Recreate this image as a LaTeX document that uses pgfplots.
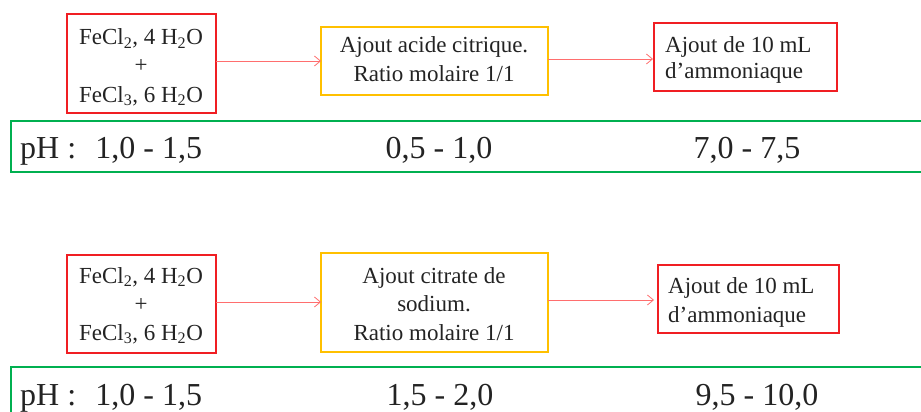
\documentclass[border=0pt]{standalone}
\usepackage{pgfplots}
\pgfplotsset{compat=1.18}
\usetikzlibrary{arrows.meta}
\usepackage{fontspec}
\setmainfont{Liberation Serif}
\definecolor{boxred}{RGB}{240,30,35}
\definecolor{boxorange}{RGB}{255,192,0}
\definecolor{boxgreen}{RGB}{0,176,80}
\definecolor{arrred}{RGB}{255,110,110}
\definecolor{txt}{RGB}{35,35,35}
\newcommand{\sm}{\fontsize{23bp}{27bp}\selectfont}
\newcommand{\bg}{\fontsize{32bp}{36bp}\selectfont}
\begin{document}
\begin{tikzpicture}
\begin{axis}[
  scale only axis, width=921bp, height=412bp,
  xmin=0, xmax=921, ymin=0, ymax=412, y dir=reverse,
  axis lines=none, clip=true,
]
% ---------- top diagram ----------
\addplot[draw=boxred, line width=1.5pt, mark=none] coordinates {(67,14) (216,14) (216,113) (67,113)} -- cycle;
\addplot[draw=boxorange, line width=1.5pt, mark=none] coordinates {(321,27) (548,27) (548,95) (321,95)} -- cycle;
\addplot[draw=boxred, line width=1.5pt, mark=none] coordinates {(654,23) (837,23) (837,91) (654,91)} -- cycle;
\addplot[draw=arrred, line width=0.8pt, mark=none, -{Straight Barb[length=6bp,width=10bp]}] coordinates {(216,61) (321,61)};
\addplot[draw=arrred, line width=0.8pt, mark=none, -{Straight Barb[length=6bp,width=10bp]}] coordinates {(548,59) (653,59)};
\addplot[draw=boxgreen, line width=1.5pt, mark=none] coordinates {(921,121) (11,121) (11,172) (921,172)};

\node[anchor=base, text=txt, font=\sm] at (axis cs:141,45) {FeCl\textsubscript{2}, 4 H\textsubscript{2}O};
\node[anchor=base, text=txt, font=\sm] at (axis cs:141,73) {+};
\node[anchor=base, text=txt, font=\sm] at (axis cs:141,102) {FeCl\textsubscript{3}, 6 H\textsubscript{2}O};
\node[anchor=base, text=txt, font=\sm] at (axis cs:434,53) {Ajout acide citrique.};
\node[anchor=base, text=txt, font=\sm] at (axis cs:434,82) {Ratio molaire 1/1};
\node[anchor=base west, inner sep=0pt, text=txt, font=\sm] at (axis cs:665,53) {Ajout de 10 mL};
\node[anchor=base west, inner sep=0pt, text=txt, font=\sm] at (axis cs:665,79) {d’ammoniaque};
\node[anchor=base west, inner sep=0pt, text=txt, font=\bg] at (axis cs:20,158) {pH :\hspace{0.6em}1,0 - 1,5};
\node[anchor=base, inner sep=0pt, text=txt, font=\bg] at (axis cs:439,158) {0,5 - 1,0};
\node[anchor=base, inner sep=0pt, text=txt, font=\bg] at (axis cs:747,158) {7,0 - 7,5};

% ---------- bottom diagram ----------
\addplot[draw=boxred, line width=1.5pt, mark=none] coordinates {(67,255) (216,255) (216,353) (67,353)} -- cycle;
\addplot[draw=boxorange, line width=1.5pt, mark=none] coordinates {(321,253) (548,253) (548,352) (321,352)} -- cycle;
\addplot[draw=boxred, line width=1.5pt, mark=none] coordinates {(658,265) (839,265) (839,333) (658,333)} -- cycle;
\addplot[draw=arrred, line width=0.8pt, mark=none, -{Straight Barb[length=6bp,width=10bp]}] coordinates {(216,302) (321,302)};
\addplot[draw=arrred, line width=0.8pt, mark=none, -{Straight Barb[length=6bp,width=10bp]}] coordinates {(548,300) (654,300)};
\addplot[draw=boxgreen, line width=1.5pt, mark=none] coordinates {(921,367) (11,367) (11,412)};

\node[anchor=base, text=txt, font=\sm] at (axis cs:141,283) {FeCl\textsubscript{2}, 4 H\textsubscript{2}O};
\node[anchor=base, text=txt, font=\sm] at (axis cs:141,311) {+};
\node[anchor=base, text=txt, font=\sm] at (axis cs:141,340) {FeCl\textsubscript{3}, 6 H\textsubscript{2}O};
\node[anchor=base, text=txt, font=\sm] at (axis cs:434,283) {Ajout citrate de};
\node[anchor=base, text=txt, font=\sm] at (axis cs:434,311) {sodium.};
\node[anchor=base, text=txt, font=\sm] at (axis cs:434,340) {Ratio molaire 1/1};
\node[anchor=base west, inner sep=0pt, text=txt, font=\sm] at (axis cs:668,293) {Ajout de 10 mL};
\node[anchor=base west, inner sep=0pt, text=txt, font=\sm] at (axis cs:668,322) {d’ammoniaque};
\node[anchor=base west, inner sep=0pt, text=txt, font=\bg] at (axis cs:20,405) {pH :\hspace{0.6em}1,0 - 1,5};
\node[anchor=base, inner sep=0pt, text=txt, font=\bg] at (axis cs:440,405) {1,5 - 2,0};
\node[anchor=base, inner sep=0pt, text=txt, font=\bg] at (axis cs:757,405) {9,5 - 10,0};
\end{axis}
\pgfresetboundingbox
\useasboundingbox (current axis.south west) rectangle (current axis.north east);
\end{tikzpicture}
\end{document}
